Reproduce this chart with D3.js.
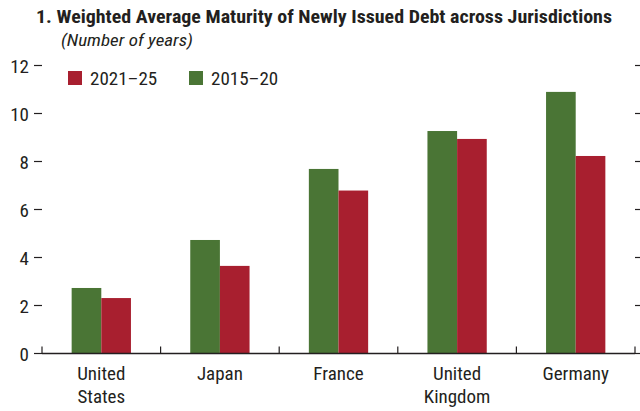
<!DOCTYPE html>
<html>
<head>
<meta charset="utf-8">
<script src="https://cdn.jsdelivr.net/npm/d3@7"></script>
<style>
  body { margin: 0; background: #fff; }
  svg { display: block; }
  text { fill: #231f20; font-family: "Liberation Sans Narrow", "Roboto Condensed", Roboto, sans-serif; }
</style>
</head>
<body>
<svg id="chart" width="640" height="411"></svg>
<script>
// data
var countries = [["United", "States"], ["Japan"], ["France"], ["United", "Kingdom"], ["Germany"]];
var recent = [2.31, 3.65, 6.79, 8.94, 8.23];   // 2021–25
var earlier = [2.73, 4.73, 7.69, 9.27, 10.9];  // 2015–20
var yTicks = [0, 2, 4, 6, 8, 10, 12];
var seriesNames = ["2021–25", "2015–20"];

var GREEN = "#4a7535", RED = "#a81f2f", INK = "#231f20";

var svg = d3.select("#chart");
var plotLeft = 42, plotRight = 635, plotTop = 65.5, plotBottom = 353.5;

var x = d3.scaleBand()
	.domain(d3.range(countries.length))
	.range([plotLeft, plotRight]);

var y = d3.scaleLinear()
	.domain([0, 12])
	.range([plotBottom, plotTop]);

var barW = x.bandwidth() * 0.25;

// title
svg.append("text")
	.attr("x", 36).attr("y", 23)
	.attr("font-size", 18.5).attr("font-weight", "bold")
	.attr("textLength", 576).attr("lengthAdjust", "spacingAndGlyphs")
	.text("1. Weighted Average Maturity of Newly Issued Debt across Jurisdictions");

svg.append("text")
	.attr("x", 61).attr("y", 46)
	.attr("font-size", 16.5).attr("font-style", "italic")
	.attr("textLength", 132).attr("lengthAdjust", "spacingAndGlyphs")
	.text("(Number of years)");

// bars
var groups = svg.append("g").selectAll("g")
	.data(countries)
	.enter().append("g");

groups.append("rect")
	.attr("x", function(d, i) { return x(i) + x.bandwidth() / 2 - barW; })
	.attr("y", function(d, i) { return y(earlier[i]); })
	.attr("width", barW)
	.attr("height", function(d, i) { return y(0) - y(earlier[i]); })
	.attr("fill", GREEN);

groups.append("rect")
	.attr("x", function(d, i) { return x(i) + x.bandwidth() / 2; })
	.attr("y", function(d, i) { return y(recent[i]); })
	.attr("width", barW)
	.attr("height", function(d, i) { return y(0) - y(recent[i]); })
	.attr("fill", RED);

// left ticks + labels
var yAxisL = svg.append("g");
yAxisL.selectAll("line")
	.data(yTicks)
	.enter().append("line")
	.attr("x1", 34).attr("x2", plotLeft)
	.attr("y1", function(d) { return y(d); })
	.attr("y2", function(d) { return y(d); })
	.attr("stroke", INK).attr("stroke-width", 1.2);
yAxisL.selectAll("text")
	.data(yTicks)
	.enter().append("text")
	.attr("x", 29)
	.attr("y", function(d) { return y(d) + 7; })
	.attr("text-anchor", "end")
	.attr("font-size", 19)
	.text(function(d) { return d; });

// right ticks
svg.append("g").selectAll("line")
	.data(yTicks)
	.enter().append("line")
	.attr("x1", plotRight).attr("x2", 641)
	.attr("y1", function(d) { return y(d); })
	.attr("y2", function(d) { return y(d); })
	.attr("stroke", INK).attr("stroke-width", 1.2);

// x axis line + upward ticks between categories
svg.append("line")
	.attr("x1", plotLeft).attr("x2", plotRight)
	.attr("y1", plotBottom).attr("y2", plotBottom)
	.attr("stroke", INK).attr("stroke-width", 1.3);

var bounds = x.domain().map(function(i) { return x(i); }).concat([plotRight]);
svg.append("g").selectAll("line")
	.data(bounds)
	.enter().append("line")
	.attr("x1", function(d) { return d; }).attr("x2", function(d) { return d; })
	.attr("y1", plotBottom - 7).attr("y2", plotBottom)
	.attr("stroke", INK).attr("stroke-width", 1.2);

// category labels
var labels = svg.append("g").selectAll("text")
	.data(countries)
	.enter().append("text")
	.attr("text-anchor", "middle")
	.attr("font-size", 19)
	.attr("x", function(d, i) { return x(i) + x.bandwidth() / 2; })
	.attr("y", 380);
labels.selectAll("tspan")
	.data(function(d) { return d; })
	.enter().append("tspan")
	.attr("x", function() { return d3.select(this.parentNode).attr("x"); })
	.attr("dy", function(d, j) { return j ? 23 : 0; })
	.text(function(d) { return d; });

// legend
var legendX = [68, 189];
var legendCol = [RED, GREEN];
var legend = svg.append("g").selectAll("g")
	.data(seriesNames)
	.enter().append("g")
	.attr("transform", function(d, i) { return "translate(" + legendX[i] + ",71)"; });
legend.append("rect")
	.attr("width", 14).attr("height", 14)
	.attr("fill", function(d, i) { return legendCol[i]; });
legend.append("text")
	.attr("x", 22).attr("y", 13.5)
	.attr("font-size", 19)
	.text(function(d) { return d; });
</script>
</body>
</html>
